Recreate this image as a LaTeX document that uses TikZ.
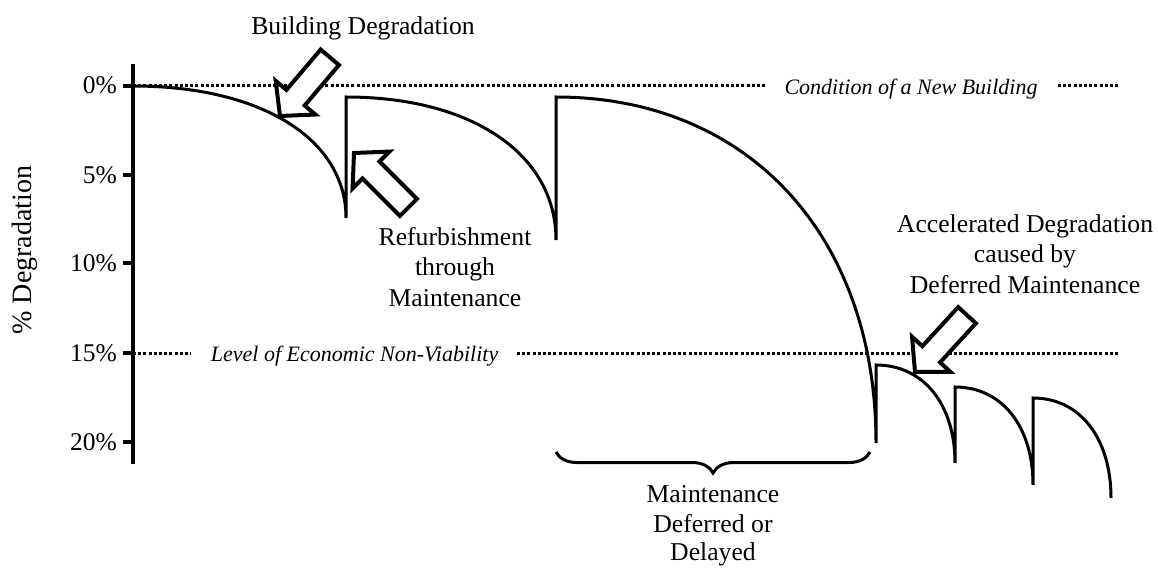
\documentclass[tikz,border=0pt]{standalone}
\usepackage{fontspec}
\setmainfont{Liberation Serif}
\usetikzlibrary{decorations.pathreplacing}
\begin{document}
\begin{tikzpicture}[x=1pt,y=-1pt,
  lbl/.style={font=\fontsize{25.7}{30.5}\selectfont, inner sep=0pt, anchor=base},
  itl/.style={font=\fontsize{22}{26}\selectfont\itshape, inner sep=0pt, anchor=base},
  ticklbl/.style={font=\fontsize{25.5}{30}\selectfont, inner sep=0pt, anchor=base east},
  curve/.style={line width=3pt, line join=miter},
  dots/.style={line width=3pt, dash pattern=on 3pt off 2.2pt},
  axisline/.style={line width=4pt},
  tickline/.style={line width=3.4pt},
  blockarrow/.style={draw, fill=white, line width=4pt, line join=miter},
  pics/blockarr/.style={code={
    \draw[blockarrow] (0,0) -- (-24,26) -- (-24,12) -- (-77,12) -- (-77,-12) -- (-24,-12) -- (-24,-26) -- cycle;}}
]
\useasboundingbox (0,0) rectangle (1158,567);

% reference lines
\draw[dots] (133,86) -- (767,86);
\draw[dots] (1058,86) -- (1120,86);
\draw[dots] (133,353) -- (191,353);
\draw[dots] (517,353) -- (1118,353);

% degradation curve
\draw[curve] (133,86) .. controls (260.8,86) and (346,138.8) .. (346,218)
  -- (346,97) .. controls (472,97) and (556,154.2) .. (556,240)
  -- (556,97) .. controls (748,97) and (876,235.4) .. (876,443)
  -- (876,365) .. controls (923.4,365) and (955,404.2) .. (955,463)
  -- (955,387) .. controls (1001.8,387) and (1033,426.2) .. (1033,485)
  -- (1033,398) .. controls (1079.8,398) and (1111,438) .. (1111,498);

% axis and ticks
\draw[axisline] (133,64) -- (133,464);
\foreach \yy in {86,175,263,353,442} { \draw[tickline] (123,\yy) -- (133,\yy); }

\node[ticklbl] (t0) at (117,94) {0\%};
\node[ticklbl] (t5) at (117,183) {5\%};
\node[ticklbl] (t10) at (117,271) {10\%};
\node[ticklbl] (t15) at (117,361) {15\%};
\node[ticklbl] (t20) at (117,450) {20\%};
\node[font=\fontsize{28}{32}\selectfont, rotate=90, inner sep=0pt] (ylab) at (25,250) {\% Degradation};

% line labels
\node[itl] (newb) at (911,95) {Condition of a New Building};
\node[itl] (nonv) at (354.6,361.5) {Level of Economic Non-Viability};

% brace
\draw[line width=3pt, decorate, decoration={brace, mirror, amplitude=21pt}] (556,452) -- (870,452);

% texts
\node[lbl] (bd) at (363,35) {Building Degradation};
\node[lbl] (rf1) at (455,245) {Refurbishment};
\node[lbl] (rf2) at (455,275.5) {through};
\node[lbl] (rf3) at (455,306.5) {Maintenance};
\node[lbl] (ac1) at (1025,232) {Accelerated Degradation};
\node[lbl] (ac2) at (1025,262.5) {caused by};
\node[lbl] (ac3) at (1025,293) {Deferred Maintenance};
\node[lbl] (md1) at (713,502) {Maintenance};
\node[lbl] (md2) at (713,532) {Deferred or};
\node[lbl] (md3) at (713,560.5) {Delayed};

% block arrows
\pic[rotate=229.7] at (280,116) {blockarr};
\pic[rotate=135] at (354,153) {blockarr};
\pic[rotate=227.5] at (915,372) {blockarr};
\end{tikzpicture}
\end{document}
